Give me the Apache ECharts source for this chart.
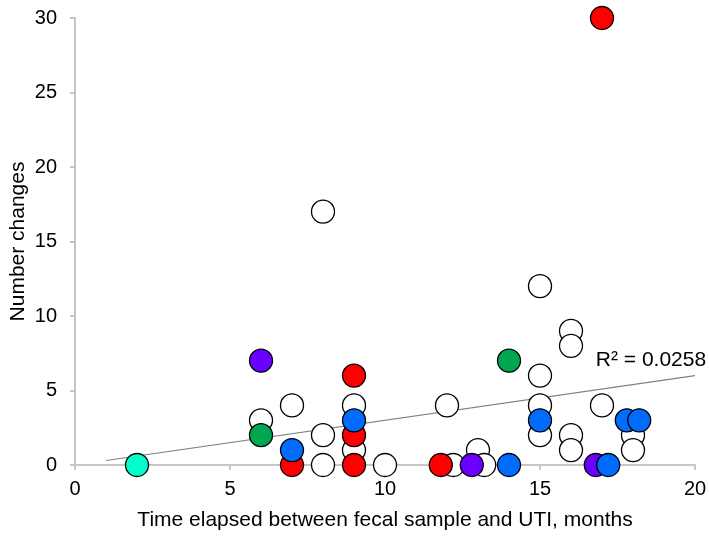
<!DOCTYPE html>
<html>
<head>
<meta charset="utf-8">
<script src="https://cdn.jsdelivr.net/npm/echarts@6/dist/echarts.min.js"></script>
<style>
  html, body { margin: 0; padding: 0; background: #fff; }
  #chart { width: 709px; height: 536px; }
</style>
</head>
<body>
<div id="chart"></div>
<script>
// Months elapsed (x) and number of changes (y) per patient, grouped by marker colour
const openX   = [6, 7, 8, 8, 8, 9, 9, 10, 15, 16, 16, 15, 12, 15, 15, 17, 16, 16, 13, 12.2, 13.2, 18, 18];
const openY   = [3, 4, 2, 0, 17, 4, 1, 0, 12, 9, 8, 6, 4, 4, 2, 4, 2, 1, 1, 0, 0, 2, 1];
const cyanX   = [2];
const cyanY   = [0];
const greenX  = [6, 14];
const greenY  = [2, 7];
const purpleX = [6, 12.8, 16.8];
const purpleY = [7, 0, 0];
const redX    = [17, 7, 9, 9, 9, 11.8];
const redY    = [30, 0, 6, 2, 0, 0];
const blueX   = [7, 9, 14, 15, 17.8, 18.2, 17.2];
const blueY   = [1, 3, 0, 3, 3, 3, 0];

// Linear trend line end points and its fit statistic
const trendX = [1, 20];
const trendY = [0.3, 6.0];
const rSquaredText = 'R² = 0.0258';

const xTicks = [0, 5, 10, 15, 20];
const yTicks = [0, 5, 10, 15, 20, 25, 30];

const pairs = (xs, ys) => xs.map((x, i) => [x, ys[i]]);

const FONT = '"Liberation Sans", Arial, sans-serif';
const AXIS_GREY = '#C6C6C6';

function dots(name, xs, ys, fill) {
  return {
    name: name,
    type: 'scatter',
    data: pairs(xs, ys),
    symbol: 'circle',
    symbolSize: 23,
    itemStyle: { color: fill, borderColor: '#000', borderWidth: 1.3, opacity: 1 },
    emphasis: { disabled: true },
    z: 3
  };
}

const chart = echarts.init(document.getElementById('chart'), null, { renderer: 'canvas' });

chart.setOption({
  animation: false,
  backgroundColor: '#fff',
  grid: { left: 75, right: 14, top: 18, bottom: 71, containLabel: false, outerBoundsMode: 'none' },
  xAxis: {
    type: 'value',
    min: xTicks[0],
    max: xTicks[xTicks.length - 1],
    interval: 5,
    name: 'Time elapsed between fecal sample and UTI, months',
    nameLocation: 'middle',
    nameGap: 45,
    nameMoveOverlap: false,
    nameTextStyle: { fontFamily: FONT, fontSize: 21, color: '#000' },
    axisLine: { show: true, lineStyle: { color: AXIS_GREY, width: 2 } },
    axisTick: { show: true, length: 5, lineStyle: { color: AXIS_GREY, width: 2 } },
    axisLabel: { fontFamily: FONT, fontSize: 20, color: '#000', margin: 14 },
    splitLine: { show: false }
  },
  yAxis: {
    type: 'value',
    min: yTicks[0],
    max: yTicks[yTicks.length - 1],
    interval: 5,
    name: 'Number changes',
    nameLocation: 'middle',
    nameGap: 46,
    nameMoveOverlap: false,
    nameTextStyle: { fontFamily: FONT, fontSize: 21, color: '#000' },
    axisLine: { show: true, lineStyle: { color: AXIS_GREY, width: 2 } },
    axisTick: { show: true, length: 5, lineStyle: { color: AXIS_GREY, width: 2 } },
    axisLabel: { fontFamily: FONT, fontSize: 20, color: '#000', margin: 18 },
    splitLine: { show: false }
  },
  series: [
    {
      name: 'trend',
      type: 'line',
      data: pairs(trendX, trendY),
      symbol: 'none',
      lineStyle: { color: '#808080', width: 1.2 },
      silent: true,
      z: 2,
      markPoint: {
        symbol: 'circle',
        symbolSize: 1,
        itemStyle: { color: 'rgba(0,0,0,0)' },
        data: [{ coord: [trendX[1], trendY[1]] }],
        label: {
          show: true,
          formatter: rSquaredText,
          position: 'inside',
          align: 'center',
          verticalAlign: 'middle',
          offset: [-44, -15],
          fontFamily: FONT,
          fontSize: 21,
          color: '#000'
        }
      }
    },
    dots('open', openX, openY, '#FFFFFF'),
    dots('cyan', cyanX, cyanY, '#00FFCC'),
    dots('green', greenX, greenY, '#00A650'),
    dots('purple', purpleX, purpleY, '#6A00FF'),
    dots('red', redX, redY, '#FF0000'),
    dots('blue', blueX, blueY, '#006CFF')
  ]
});
</script>
</body>
</html>
